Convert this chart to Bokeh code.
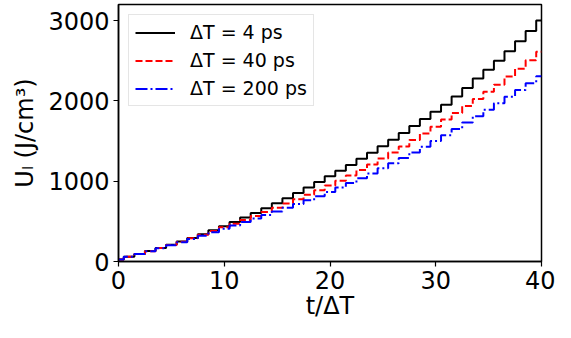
from bokeh.plotting import figure
from bokeh.models import Legend, LegendItem, FixedTicker, Range1d
from bokeh.embed import file_html
from bokeh.resources import INLINE

# t/ΔT step index
t_steps = list(range(41))

# U_l (J/cm^3)
u_4ps = [25, 58, 93, 130, 168, 208, 250, 294, 340, 388,
         440, 493, 548, 605, 664, 725, 788, 853, 920, 989,
         1060, 1130, 1203, 1278, 1355, 1435, 1517, 1600, 1686, 1775,
         1865, 1952, 2056, 2160, 2278, 2389, 2500, 2619, 2742, 2869, 3000]
u_40ps = [25, 58, 93, 129, 167, 206, 247, 289, 333, 379,
          425, 471, 518, 567, 617, 668, 721, 775, 830, 887,
          945, 1007, 1072, 1139, 1209, 1281, 1356, 1433, 1513, 1595,
          1679, 1767, 1850, 1937, 2024, 2115, 2202, 2302, 2401, 2505, 2612]
u_200ps = [25, 58, 92, 127, 164, 202, 241, 281, 322, 365,
           409, 449, 491, 534, 578, 623, 669, 716, 764, 814,
           865, 920, 977, 1036, 1097, 1160, 1224, 1290, 1358, 1428,
           1500, 1573, 1650, 1730, 1810, 1890, 1970, 2050, 2135, 2220, 2306]

series_labels = ["ΔT = 4 ps", "ΔT = 40 ps", "ΔT = 200 ps"]
x_ticks = [0, 10, 20, 30, 40]
y_ticks = [0, 1000, 2000, 3000]

FONT = "DejaVu Sans"

p = figure(width=555, height=322, x_range=Range1d(0, 40), y_range=Range1d(0, 3200),
           output_backend="svg", toolbar_location=None,
           min_border_left=118, min_border_right=14, min_border_top=4, min_border_bottom=58)

p.xgrid.visible = False
p.ygrid.visible = False
p.outline_line_color = "black"
p.outline_line_width = 1.5
p.outline_line_alpha = 1.0
p.background_fill_color = "white"
p.border_fill_color = "white"

for ax in (p.xaxis[0], p.yaxis[0]):
    ax.axis_line_color = "black"
    ax.axis_line_width = 1.5
    ax.major_tick_line_color = "black"
    ax.major_tick_line_width = 1.2
    ax.major_tick_out = 5
    ax.major_tick_in = 0
    ax.minor_tick_line_color = None
    ax.major_label_text_font = FONT
    ax.major_label_text_font_size = "24px"
    ax.major_label_text_color = "black"
    ax.major_label_standoff = 4
    ax.axis_label_text_font = FONT
    ax.axis_label_text_font_size = "24px"
    ax.axis_label_text_font_style = "normal"
    ax.axis_label_text_color = "black"

p.xaxis.ticker = FixedTicker(ticks=x_ticks)
p.yaxis.ticker = FixedTicker(ticks=y_ticks)

p.xaxis.axis_label = "t/ΔT"
p.xaxis.axis_label_standoff = 0
p.yaxis.axis_label = "Uₗ (J/cm³)"
p.yaxis.axis_label_standoff = 6

r1 = p.step(t_steps, u_4ps, mode="center", line_color="black", line_width=2)
r2 = p.step(t_steps, u_40ps, mode="center", line_color="red", line_width=2, line_dash="7 3")
r3 = p.step(t_steps, u_200ps, mode="center", line_color="blue", line_width=2, line_dash="12 3 2 3")

legend = Legend(items=[LegendItem(label=series_labels[0], renderers=[r1]),
                       LegendItem(label=series_labels[1], renderers=[r2]),
                       LegendItem(label=series_labels[2], renderers=[r3])],
                location="top_left", label_text_font=FONT, label_text_font_size="19px",
                label_text_color="black",
                glyph_width=40, glyph_height=19, label_height=19, spacing=6, padding=6,
                margin=10, label_standoff=15, border_line_color="#cccccc",
                border_line_width=1, background_fill_alpha=0.8)
p.add_layout(legend)

open("out.html", "w").write(file_html(p, INLINE))
